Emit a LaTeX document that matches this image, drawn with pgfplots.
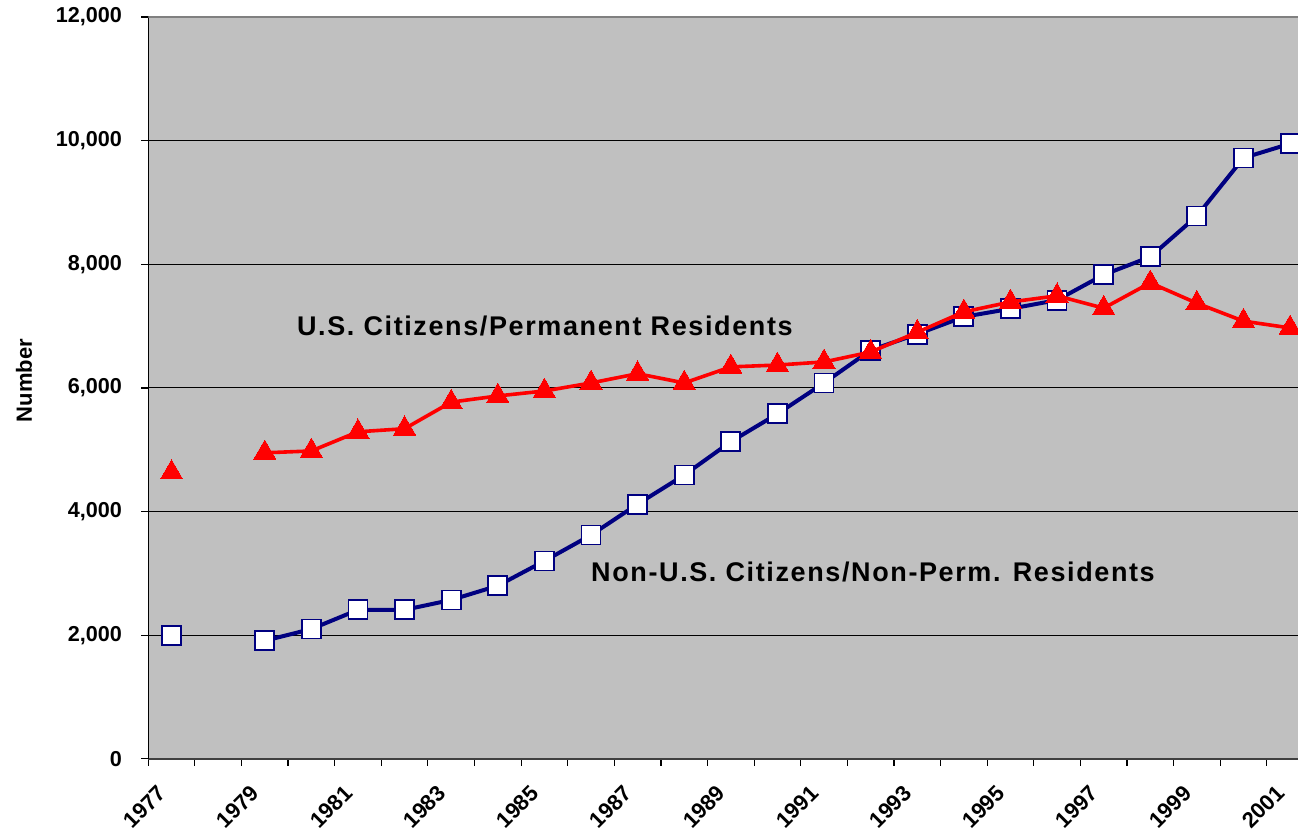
\documentclass[border=0pt]{standalone}
\usepackage{pgfplots}
\pgfplotsset{compat=1.18}
\usepackage{fontspec}
\setmainfont{Liberation Sans}
\definecolor{bgc}{RGB}{192,192,192}
\definecolor{navy}{RGB}{0,0,128}
\definecolor{axdark}{RGB}{64,64,64}
\definecolor{topgray}{RGB}{128,128,128}

\begin{document}
\begin{tikzpicture}
\begin{axis}[
  name=ax,
  scale only axis,
  width=575pt, height=371pt,
  xmin=-0.5, xmax=24.17,
  ymin=0, ymax=12000,
  axis background/.style={fill=bgc},
  axis x line*=bottom,
  axis y line*=left,
  x axis line style={draw=axdark, line width=1pt},
  y axis line style={draw=black, line width=0.7pt},
  tick align=outside,
  major tick length=0pt,
  minor tick length=3.5pt,
  ytick={0,2000,4000,6000,8000,10000,12000},
  minor ytick={0,2000,4000,6000,8000,10000,12000},
  scaled y ticks=false,
  ymajorgrids,
  grid style={black, line width=0.5pt},
  xtick={0,2,4,6,8,10,12,14,16,18,20,22,24},
  xticklabels={1977,1979,1981,1983,1985,1987,1989,1991,1993,1995,1997,1999,2001},
  minor xtick={-0.5,0.5,...,23.5},
  every tick/.style={black, line width=0.6pt},
  xticklabel style={font=\bfseries\fontsize{11}{13}\selectfont, inner sep=0pt, xshift=-4.65pt, yshift=-15.2pt, rotate=45, anchor=east},
  yticklabel style={font=\bfseries\fontsize{10.8}{13}\selectfont, inner sep=0pt, xshift=-13pt, anchor=east},
  /pgf/number format/.cd, 1000 sep={,}, assume math mode=true,
  /pgfplots/.cd,
  ylabel={Number},
  ylabel style={font=\bfseries\fontsize{11}{13}\selectfont, at={(axis description cs:-0.108,0.51)}, anchor=center},
  unbounded coords=jump,
  clip marker paths=true,
]
\addplot[navy, line width=2pt, mark=square*, mark size=4.75pt,
  mark options={fill=white, draw=navy, line width=0.9pt}] coordinates {
  (0,2000) (1,nan) (2,1910) (3,2100) (4,2410) (5,2410) (6,2570) (7,2800)
  (8,3200) (9,3620) (10,4120) (11,4590) (12,5130) (13,5580) (14,6080)
  (15,6610) (16,6870) (17,7150) (18,7280) (19,7420) (20,7830) (21,8120)
  (22,8780) (23,9720) (24,9950)
};
\addplot[red, line width=1.8pt, mark=triangle*, mark size=6.4pt,
  mark options={fill=red, draw=red, line width=0pt}] coordinates {
  (0,4630) (1,nan) (2,4950) (3,4980) (4,5290) (5,5340) (6,5770) (7,5870)
  (8,5950) (9,6080) (10,6230) (11,6080) (12,6340) (13,6370) (14,6420)
  (15,6580) (16,6900) (17,7230) (18,7390) (19,7490) (20,7290) (21,7700)
  (22,7370) (23,7080) (24,6970)
};
\draw[topgray, line width=1pt] (rel axis cs:0,1) -- (rel axis cs:1,1);
\node[font=\bfseries\fontsize{13.5}{16}\selectfont\addfontfeatures{LetterSpace=6}] at (axis cs:8.01,7003) {U.S. Citizens/Permanent Residents};
\node[font=\bfseries\fontsize{13.5}{16}\selectfont\addfontfeatures{LetterSpace=6}] at (axis cs:15.05,3024) {Non-U.S. Citizens/Non-Perm. Residents};
\end{axis}
\pgfresetboundingbox
\path ([xshift=-74.15pt, yshift=-37pt]ax.south west) rectangle ([yshift=8.5pt]ax.north east);
\end{tikzpicture}
\end{document}
